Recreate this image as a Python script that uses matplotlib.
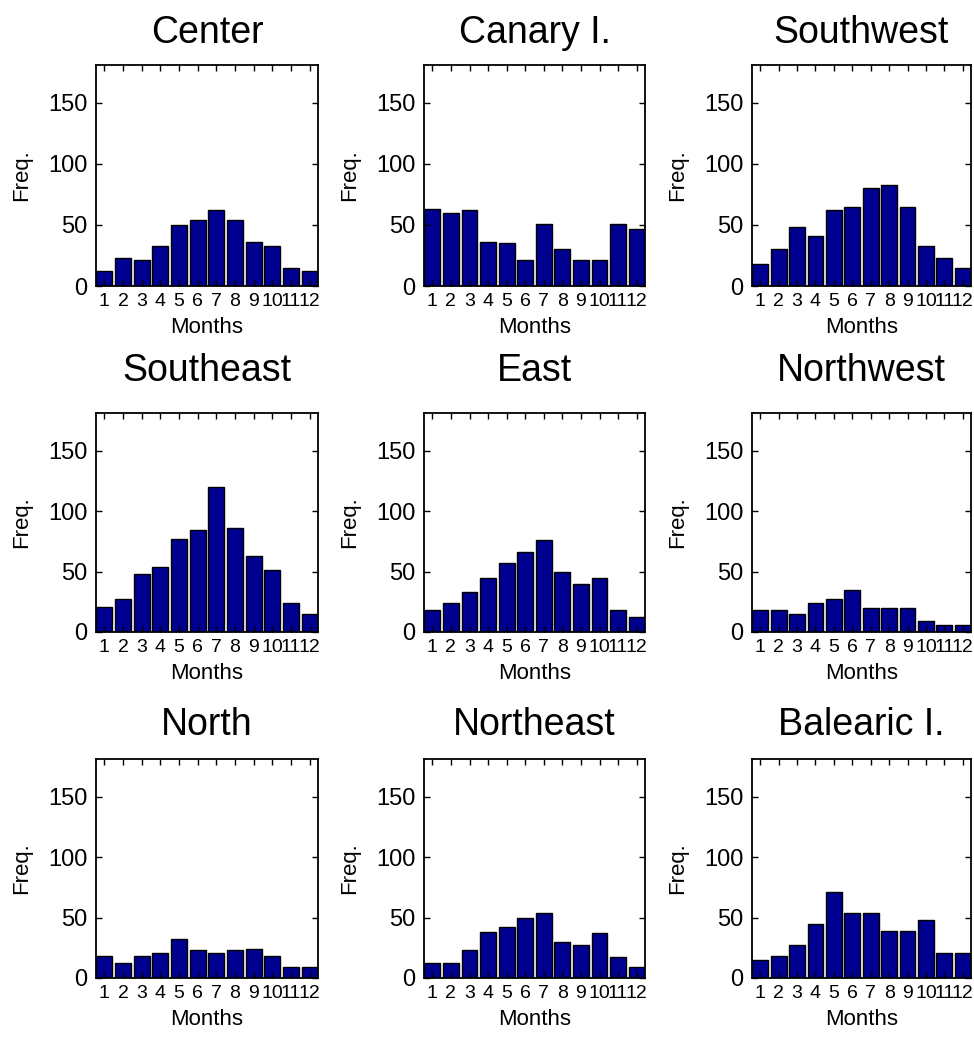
import numpy as np
import matplotlib
matplotlib.use("Agg")
import matplotlib.pyplot as plt
from matplotlib import font_manager

# Monthly frequencies per region
months = np.arange(1, 13)
month_labels = [str(m) for m in months]

regions = ["Center", "Canary I.", "Southwest",
           "Southeast", "East", "Northwest",
           "North", "Northeast", "Balearic I."]

center    = [12, 23, 21, 33, 50, 54, 62, 54, 36, 33, 15, 12]
canary    = [63, 60, 62, 36, 35, 21, 51, 30, 21, 21, 51, 47]
southwest = [18, 30, 48, 41, 62, 65, 80, 83, 65, 33, 23, 15]
southeast = [21, 27, 48, 54, 77, 84, 120, 86, 63, 51, 24, 15]
east      = [18, 24, 33, 45, 57, 66, 76, 50, 40, 45, 18, 12]
northwest = [18, 18, 15, 24, 27, 35, 20, 20, 20, 9, 6, 6]
north     = [18, 12, 18, 21, 32, 23, 21, 23, 24, 18, 9, 9]
northeast = [12, 12, 23, 38, 42, 50, 54, 30, 27, 37, 17, 9]
balearic  = [15, 18, 27, 45, 71, 54, 54, 39, 39, 48, 21, 21]

series = [center, canary, southwest, southeast, east, northwest,
          north, northeast, balearic]

yticks = [0, 50, 100, 150]

# a narrow face for the month digits if one is around, otherwise plain Liberation Sans
names = {f.name for f in font_manager.fontManager.ttflist}
narrow = [n for n in ("Liberation Sans Narrow", "DejaVu Sans Condensed") if n in names]
if narrow:
    xtick_font, xtick_size = narrow[0], 17
else:
    xtick_font, xtick_size = "Liberation Sans", 14

plt.rcParams['font.family'] = ['Liberation Sans', 'DejaVu Sans']

W, H = 974, 1038
fig = plt.figure(figsize=(W / 100, H / 100), dpi=100)

# axes boxes in pixels (left, top, right, bottom)
col_x = [(96, 318), (424, 645), (752, 971)]
row_y = [(65, 286), (413, 632), (759, 978)]
title_pad = [16, 23, 17]

for i, (name, vals) in enumerate(zip(regions, series)):
    r, c = divmod(i, 3)
    x0, x1 = col_x[c]
    y0, y1 = row_y[r]
    ax = fig.add_axes([x0 / W, 1 - y1 / H, (x1 - x0) / W, (y1 - y0) / H])
    ax.bar(months, vals, width=0.86, color='#000090', edgecolor='black', linewidth=1.0)
    ax.set_xlim(0.55, 12.45)
    ax.set_ylim(0, 181)
    ax.set_xticks(months)
    ax.set_xticklabels(month_labels)
    ax.set_yticks(yticks)
    ax.tick_params(direction='in', top=True, right=True, length=4, width=1)
    ax.tick_params(axis='x', labelsize=xtick_size, pad=5)
    ax.tick_params(axis='y', labelsize=17, pad=6)
    for lab in ax.get_xticklabels():
        lab.set_fontfamily(xtick_font)
    for s in ax.spines.values():
        s.set_linewidth(1.3)
    ax.set_xlabel("Months", fontsize=16, labelpad=5)
    ax.set_ylabel("Freq.", fontsize=16, labelpad=12)
    ax.set_title(name, fontsize=27, pad=title_pad[r])

fig.savefig("out.png", dpi=100)
